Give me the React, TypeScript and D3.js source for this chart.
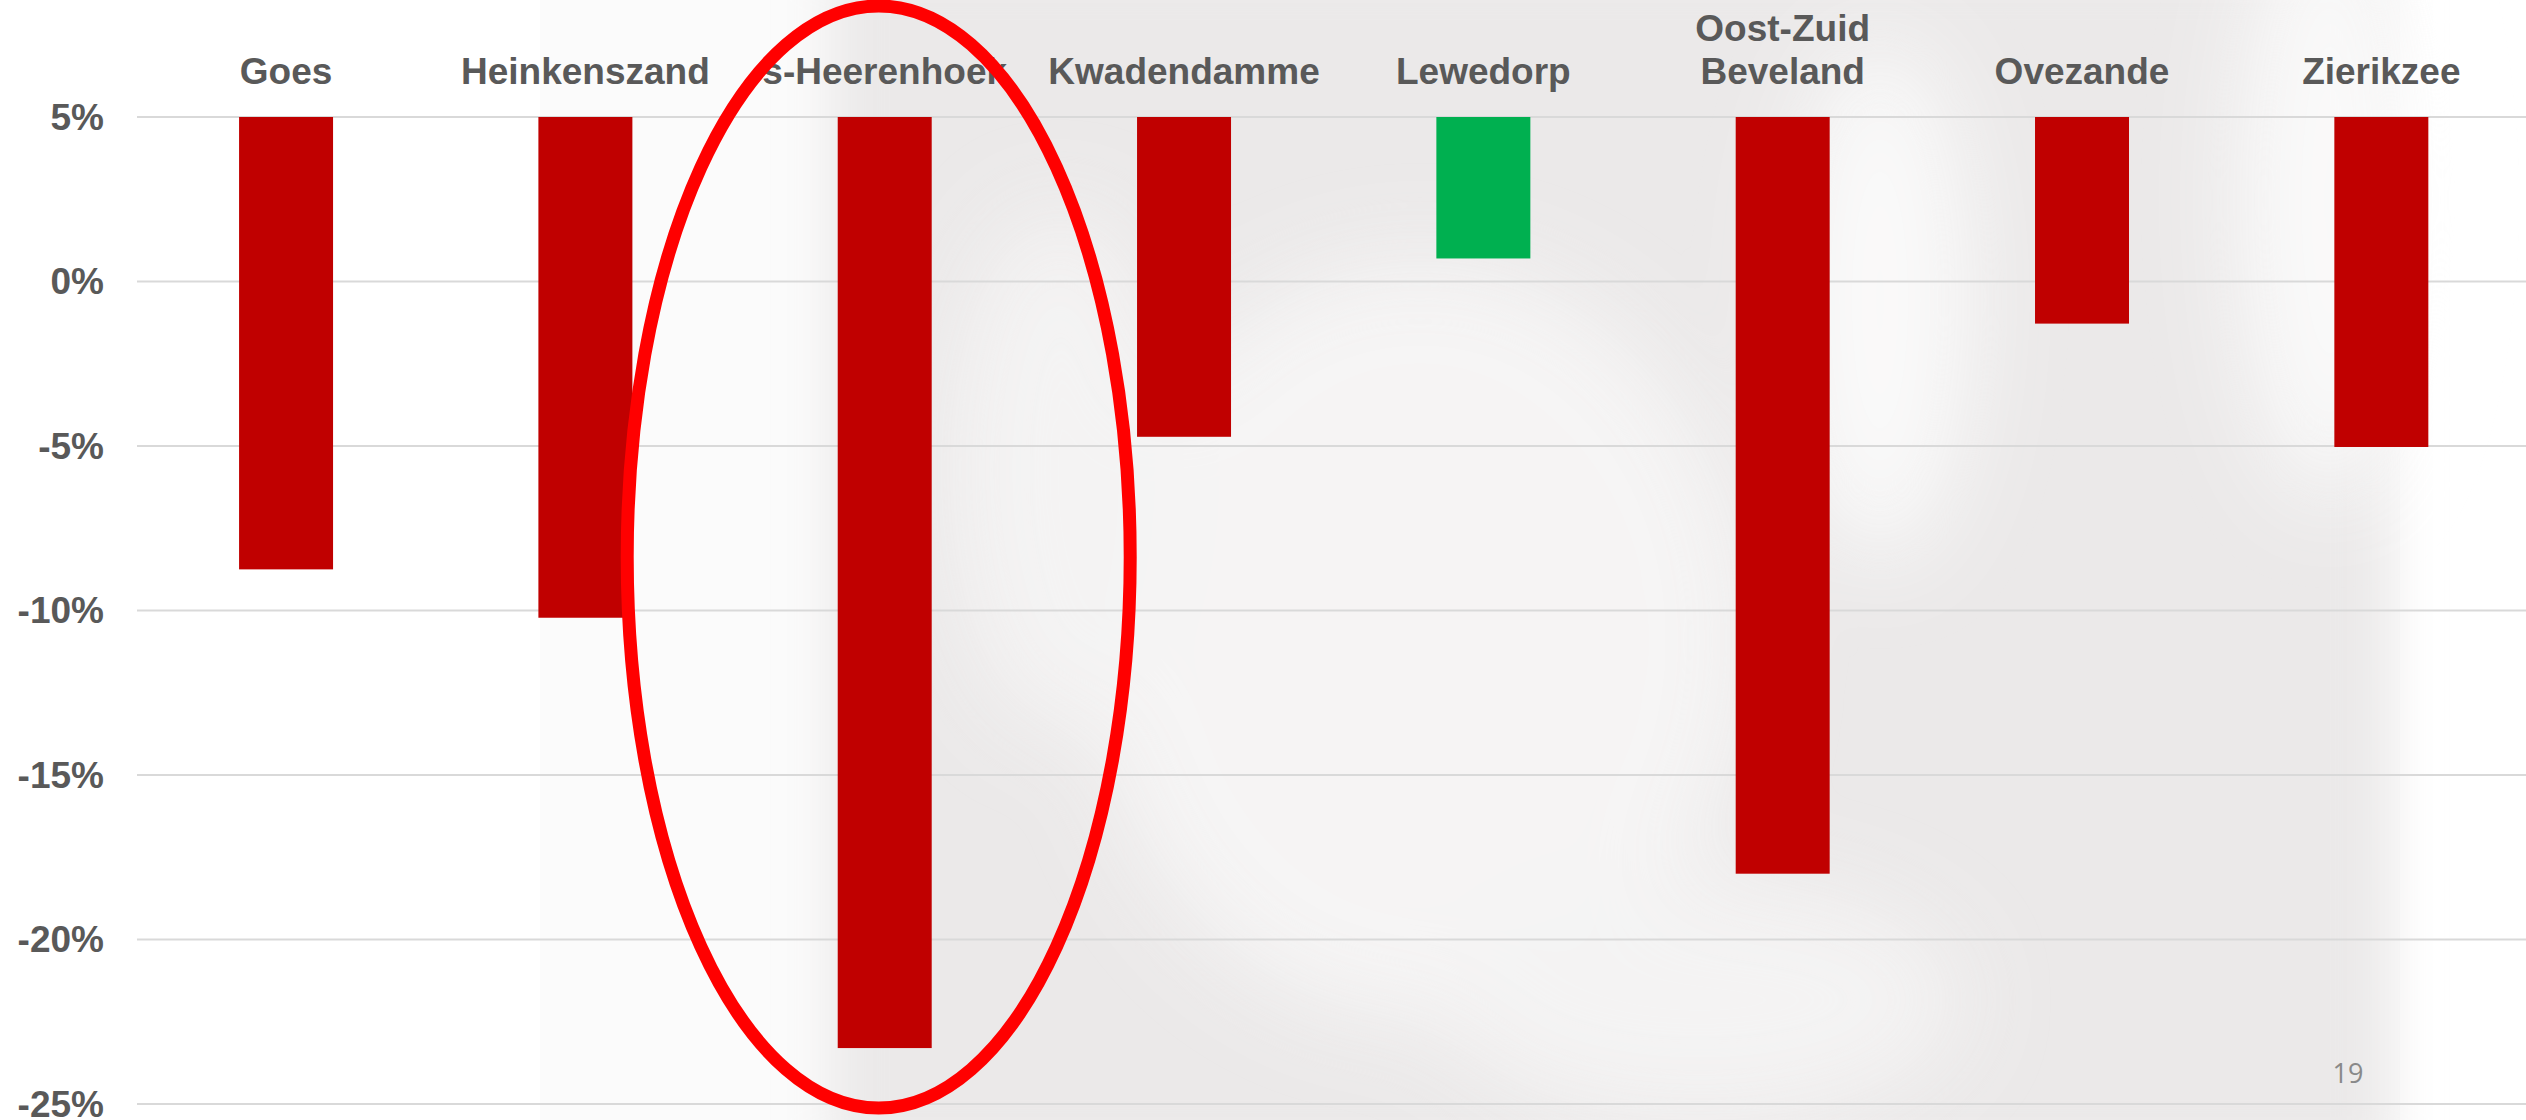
import React from "react";
import * as d3 from "d3";

const categories = [
  ["Goes"],
  ["Heinkenszand"],
  ["s-Heerenhoek"],
  ["Kwadendamme"],
  ["Lewedorp"],
  ["Oost-Zuid", "Beveland"],
  ["Ovezande"],
  ["Zierikzee"],
];
const categoryKeys = categories.map((c) => c.join(" "));
const values = [-8.75, -10.22, -23.3, -4.72, 0.7, -18.0, -1.28, -5.03];
const baseValue = 5;
const yTicks = [5, 0, -5, -10, -15, -20, -25];
const highlighted = "s-Heerenhoek";
const pageNumber = "19";

const W = 2526;
const H = 1120;
const RED = "#C00000";
const GREEN = "#00B050";
const TEXT = "#595959";
const FONT = "'Liberation Sans', Arial, sans-serif";

export default function App() {
  const x = d3
    .scaleBand<string>()
    .domain(categoryKeys)
    .range([136.4, 2531])
    .paddingInner(0.686)
    .paddingOuter(0.343);
  const y = d3.scaleLinear().domain([-25, 5]).range([1104, 117]);

  const hx = (x(highlighted) ?? 0) + x.bandwidth() / 2;

  return (
    <div style={{ position: "absolute", left: 0, top: 0 }}>
      <svg width={W} height={H} style={{ display: "block", background: "#fff" }}>
        <defs>
          <filter id="blur1" x="-50%" y="-50%" width="200%" height="200%">
            <feGaussianBlur stdDeviation="25" />
          </filter>
          <filter id="blur2" x="-50%" y="-50%" width="200%" height="200%">
            <feGaussianBlur stdDeviation="45" />
          </filter>
        </defs>
        {/* faint watermark background */}
        <g>
          <rect x={540} y={0} width={1860} height={H} fill="#fbfbfb" />
          <g filter="url(#blur1)">
            <rect x={830} y={-40} width={1560} height={1200} fill="#ebe9e9" />
          </g>
          <g filter="url(#blur2)" opacity={0.85}>
            <ellipse cx={1420} cy={640} rx={330} ry={380} fill="#f8f7f7" />
            <ellipse cx={1880} cy={300} rx={90} ry={260} fill="#fdfdfd" />
            <ellipse cx={1060} cy={470} rx={110} ry={260} fill="#f6f5f5" />
            <ellipse cx={1700} cy={1000} rx={260} ry={120} fill="#f6f5f5" />
            <ellipse cx={2330} cy={200} rx={90} ry={300} fill="#fdfdfd" />
          </g>
        </g>

        {/* gridlines */}
        <g>
          {yTicks.map((t) => (
            <line
              key={t}
              x1={137}
              x2={W}
              y1={y(t)}
              y2={y(t)}
              stroke="#d9d9d9"
              strokeWidth={2}
            />
          ))}
        </g>

        {/* y tick labels */}
        <g fontFamily={FONT} fontWeight="bold" fontSize={37} fill={TEXT}>
          {yTicks.map((t) => (
            <text key={t} x={104} y={y(t)} dy="0.35em" textAnchor="end">
              {`${t}%`}
            </text>
          ))}
        </g>

        {/* bars */}
        <g>
          {categoryKeys.map((k, i) => {
            const v = values[i];
            const y0 = y(baseValue);
            const y1 = y(v);
            return (
              <rect
                key={k}
                x={x(k)}
                y={Math.min(y0, y1)}
                width={x.bandwidth()}
                height={Math.abs(y1 - y0)}
                fill={v >= 0 ? GREEN : RED}
              />
            );
          })}
        </g>

        {/* category labels */}
        <g fontFamily={FONT} fontWeight="bold" fontSize={37} fill={TEXT} textAnchor="middle">
          {categories.map((lines, i) => {
            const cx = (x(categoryKeys[i]) ?? 0) + x.bandwidth() / 2;
            const n = lines.length;
            return (
              <text key={categoryKeys[i]} x={cx} y={84 - (n - 1) * 43}>
                {lines.map((l, j) => (
                  <tspan key={j} x={cx} dy={j === 0 ? 0 : 43}>
                    {l}
                  </tspan>
                ))}
              </text>
            );
          })}
        </g>

        {/* highlight ellipse */}
        <ellipse
          cx={hx - 6}
          cy={557}
          rx={251.5}
          ry={551}
          fill="none"
          stroke="#FF0000"
          strokeWidth={13}
        />

        {/* page number */}
        <text
          x={2348}
          y={1083}
          textAnchor="middle"
          fontFamily="'Open Sans', 'Noto Sans', sans-serif"
          fontSize={27}
          fill="#898989"
        >
          {pageNumber}
        </text>
      </svg>
    </div>
  );
}
